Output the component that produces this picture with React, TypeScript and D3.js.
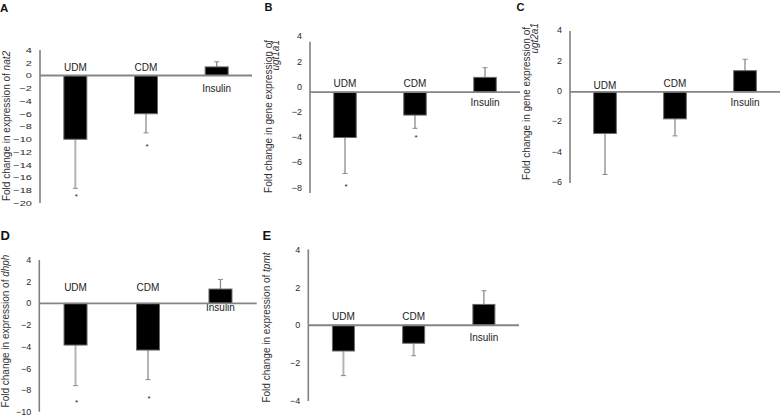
import React from 'react';
import * as d3 from 'd3';

const categories = ['UDM', 'CDM', 'Insulin'];

const nat2Mean = [-10.0, -6.0, 1.35];
const nat2Err = [7.7, 3.0, 0.8];
const nat2Sig = [true, true, false];
const nat2Ticks = [4, 2, 0, -2, -4, -6, -8, -10, -12, -14, -16, -18, -20];

const ugt1a1Mean = [-3.6, -1.82, 1.17];
const ugt1a1Err = [2.85, 1.05, 0.77];
const ugt1a1Sig = [true, true, false];
const ugt1a1Ticks = [4, 2, 0, -2, -4, -6, -8];

const ugt2a1Mean = [-2.74, -1.78, 1.39];
const ugt2a1Err = [2.7, 1.12, 0.75];
const ugt2a1Sig = [false, false, false];
const ugt2a1Ticks = [4, 2, 0, -2, -4, -6];

const dhphMean = [-3.85, -4.31, 1.32];
const dhphErr = [3.75, 2.73, 0.89];
const dhphSig = [true, true, false];
const dhphTicks = [4, 2, 0, -2, -4, -6, -8, -10];

const tpmtMean = [-1.36, -0.95, 1.1];
const tpmtErr = [1.3, 0.66, 0.72];
const tpmtSig = [false, false, false];
const tpmtTicks = [4, 2, 0, -2, -4];

type TitleLine = { pre: string; gene?: string; x: number; y: number; anchor: string };

const FONT = 'Liberation Sans, Arial, Helvetica, sans-serif';

const panels = [
  {
    letter: 'A', letterPos: [0, 12, 11.5],
    mean: nat2Mean, err: nat2Err, sig: nat2Sig, ticks: nat2Ticks,
    axisX: 40, lineEnd: 252, yTop: 50, yBottom: 203,
    barW: 23, tickDy: 0, tickFont: 10, tickSX: 1.1, tickSY: 0.8,
    labelDy: [-4.3, -4.3, 16.7], starDy: [7, 12, 0],
    titles: [{ pre: 'Fold change in expression of ', gene: 'nat2', x: 9.5, y: 126, anchor: 'middle' }] as TitleLine[],
  },
  {
    letter: 'B', letterPos: [264.5, 10.5, 11],
    mean: ugt1a1Mean, err: ugt1a1Err, sig: ugt1a1Sig, ticks: ugt1a1Ticks,
    axisX: 310, lineEnd: 520, yTop: 41.7, yBottom: 193,
    barW: 22.5, tickDy: -5.5, tickFont: 9, tickSX: 1, tickSY: 1,
    labelDy: [-5.3, -5.3, 14], starDy: [12, 8, 0],
    titles: [
      { pre: 'Fold change in gene expression of', x: 271.5, y: 40, anchor: 'end' },
      { pre: '', gene: 'ugt1a1', x: 279, y: 40, anchor: 'end' },
    ] as TitleLine[],
  },
  {
    letter: 'C', letterPos: [516.5, 10.5, 11],
    mean: ugt2a1Mean, err: ugt2a1Err, sig: ugt2a1Sig, ticks: ugt2a1Ticks,
    axisX: 570, lineEnd: 780, yTop: 31, yBottom: 183,
    barW: 22.7, tickDy: -1, tickFont: 9, tickSX: 1, tickSY: 1,
    labelDy: [-2.7, -5.3, 14], starDy: [0, 0, 0],
    titles: [
      { pre: 'Fold change in gene expression of', x: 530, y: 27, anchor: 'end' },
      { pre: '', gene: 'ugt2a1', x: 538, y: 23, anchor: 'end' },
    ] as TitleLine[],
  },
  {
    letter: 'D', letterPos: [0.5, 239.5, 13],
    mean: dhphMean, err: dhphErr, sig: dhphSig, ticks: dhphTicks,
    axisX: 39.3, lineEnd: 256.7, yTop: 260, yBottom: 411.7,
    barW: 23, tickDy: 0, tickFont: 9, tickSX: 1, tickSY: 1,
    labelDy: [-12.6, -12.6, 8], starDy: [15, 17, 0],
    titles: [{ pre: 'Fold change in expression of ', gene: 'dhph', x: 8.5, y: 331, anchor: 'middle' }] as TitleLine[],
  },
  {
    letter: 'E', letterPos: [262.5, 240, 13],
    mean: tpmtMean, err: tpmtErr, sig: tpmtSig, ticks: tpmtTicks,
    axisX: 308.3, lineEnd: 519, yTop: 249.5, yBottom: 401,
    barW: 22, tickDy: 0, tickFont: 9, tickSX: 1, tickSY: 1,
    labelDy: [-5, -5, 15.7], starDy: [0, 0, 0],
    titles: [{ pre: 'Fold change in expression of ', gene: 'tpmt', x: 270, y: 327.5, anchor: 'middle' }] as TitleLine[],
  },
];

function Panel({ p }: { p: (typeof panels)[number] }) {
  const y = d3.scaleLinear()
    .domain([p.ticks[0], p.ticks[p.ticks.length - 1]])
    .range([p.yTop, p.yBottom]);
  const step = (p.lineEnd - p.axisX) / categories.length;
  const pi = 1 - p.barW / step;
  const x = d3.scaleBand<string>()
    .domain(categories)
    .range([p.axisX, p.lineEnd])
    .paddingInner(pi)
    .paddingOuter(pi / 2);
  const y0 = y(0);
  const fmt = (v: number) => (v < 0 ? '\u2212' + Math.abs(v) : String(v));

  return (
    <g>
      <text x={p.letterPos[0]} y={p.letterPos[1]} fontSize={p.letterPos[2]} fontWeight="bold" fontFamily={FONT} fill="#111">
        {p.letter}
      </text>
      {p.titles.map((t, i) => (
        <text key={i} transform={`translate(${t.x},${t.y}) rotate(-90)`} textAnchor={t.anchor as any}
          fontSize={10} fontFamily={FONT} fill="#333">
          {t.pre}
          {t.gene ? <tspan fontStyle="italic">{t.gene}</tspan> : null}
        </text>
      ))}
      {p.ticks.map((v) => (
        <text key={v}
          transform={`translate(${p.axisX - 8},${y(v) + p.tickDy}) scale(${p.tickSX},${p.tickSY})`}
          textAnchor="end" dy="0.35em" fontSize={p.tickFont} fontFamily={FONT} fill="#2a2a2a">
          {fmt(v)}
        </text>
      ))}
      <line x1={p.axisX} x2={p.axisX} y1={p.yTop} y2={p.yBottom} stroke="#808080" strokeWidth={1.6} />
      {categories.map((c, i) => {
        const m = p.mean[i];
        const bx = x(c)!;
        const bw = x.bandwidth();
        const cx = bx + bw / 2;
        const yEnd = y(m);
        const yErr = y(m < 0 ? m - p.err[i] : m + p.err[i]);
        return (
          <g key={c}>
            <line x1={cx} x2={cx} y1={yEnd} y2={yErr} stroke={m < 0 ? '#b4b4b4' : '#8a8a8a'} strokeWidth={m < 0 ? 2 : 1.3} />
            <line x1={cx - 2.5} x2={cx + 2.5} y1={yErr} y2={yErr} stroke="#8a8a8a" strokeWidth={1} />
            <rect x={bx} width={bw} y={Math.min(yEnd, y0)} height={Math.abs(yEnd - y0)}
              fill="#000" stroke="#6a6a6a" strokeWidth={1} />
            <text x={cx} y={y0 + p.labelDy[i]} textAnchor="middle" fontSize={10} fontFamily={FONT} fill="#222">
              {c}
            </text>
            {p.sig[i] ? (
              <text x={cx + 1} y={yErr + p.starDy[i] + 4} textAnchor="middle" fontSize={8} fontFamily={FONT} fill="#222">*</text>
            ) : null}
          </g>
        );
      })}
      <line x1={p.axisX} x2={p.lineEnd} y1={y0} y2={y0} stroke="#858585" strokeWidth={1.8} />
    </g>
  );
}

export default function App() {
  return (
    <svg width={782} height={416} viewBox="0 0 782 416"
      style={{ position: 'absolute', left: 0, top: 0, background: '#fff' }}>
      <rect width={782} height={416} fill="#fff" />
      {panels.map((p) => (
        <Panel key={p.letter} p={p} />
      ))}
    </svg>
  );
}
